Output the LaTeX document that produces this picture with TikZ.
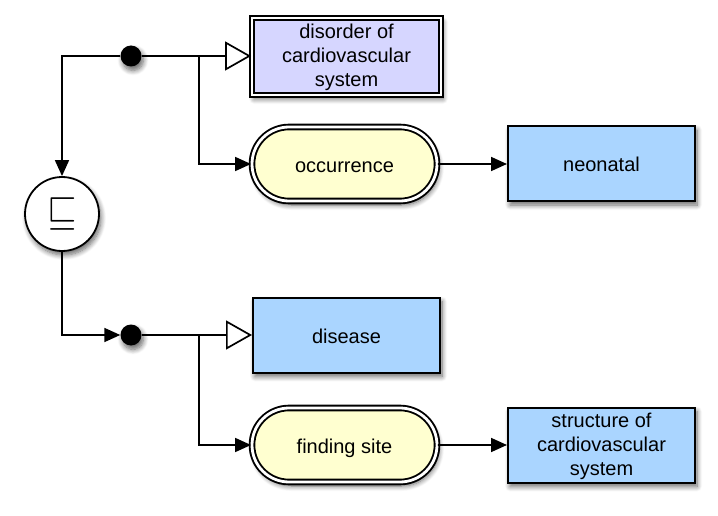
\documentclass[tikz,border=0pt]{standalone}
\usepackage{fontspec}
\usepackage{graphicx}
\setmainfont{Liberation Sans}
\usetikzlibrary{arrows.meta,shapes.misc,shadows.blur}
\definecolor{primfill}{RGB}{214,214,255}
\definecolor{conceptfill}{RGB}{170,213,255}
\definecolor{rolefill}{RGB}{255,255,208}
\begin{document}
\begin{tikzpicture}[x=1pt, y=-1pt,
          every node/.style={font=\fontsize{20}{24}\selectfont, align=center, inner sep=0pt},
          oneline/.style={text height=16pt, text depth=0pt},
          soft/.style={blur shadow={shadow xshift=2pt, shadow yshift=-4pt, shadow blur steps=8, shadow blur radius=5pt, shadow opacity=60}},
          concept/.style={rectangle, draw, line width=2pt, fill=conceptfill, minimum width=187pt, minimum height=75pt, soft},
          primconcept/.style={rectangle, draw, line width=1.9pt, double=white, double distance=2.8pt, fill=primfill, minimum width=189pt, minimum height=77pt, soft},
          role/.style={rounded rectangle, draw, line width=1.9pt, double=white, double distance=2.8pt, fill=rolefill, minimum width=185pt, minimum height=74pt, soft},
          joint/.style={circle, fill=black, minimum size=21pt, soft},
          oper/.style={circle, draw, line width=1.8pt, fill=white, minimum size=74pt, soft},
          arr/.style={-{Triangle[length=16pt, width=14pt]}, line width=1.7pt},
          isa/.style={-{Triangle[open, fill=white, length=26pt, width=29pt, line width=1.7pt]}, line width=1.7pt}
        ]
        \useasboundingbox (0,0) rectangle (718,516);

        % upper definition
        \node[joint] (dot1) at (131,56) {};
        \node[primconcept] (disorder) at (346.5,56.5) {\rule{0pt}{17pt}disorder of\\cardiovascular\\system};
        \node[role, oneline] (occ) at (344.5,164) {occurrence};
        \node[concept, oneline] (neonatal) at (601.5,163.5) {neonatal};

        % subsumption operator
        \node[oper] (op) at (62,214) {\fontsize{10}{10}\selectfont\scalebox{3.8}[4.2]{$\sqsubseteq$}};

        % lower definition
        \node[joint] (dot2) at (131,335) {};
        \node[concept, oneline] (disease) at (346.5,335) {disease};
        \node[role, oneline] (site) at (344.5,445) {finding site};
        \node[concept] (structure) at (601.5,445) {\rule{0pt}{17pt}structure of\\cardiovascular\\system};

        \coordinate (b1) at (199,56);
        \coordinate (b2) at (199,335);

        % connectors
        \draw[arr] (dot1) -| (op);
        \draw[arr] (op) |- (dot2);
        \draw[isa] (dot1) -- (dot1 -| disorder.west);
        \draw[isa] (dot2) -- (dot2 -| disease.west);
        \draw[arr] (b1) |- (occ.west);
        \draw[arr] (b2) |- (site.west);
        \draw[arr] (occ) -- (occ -| neonatal.west);
        \draw[arr] (site) -- (site -| structure.west);

        \end{tikzpicture}
\end{document}
